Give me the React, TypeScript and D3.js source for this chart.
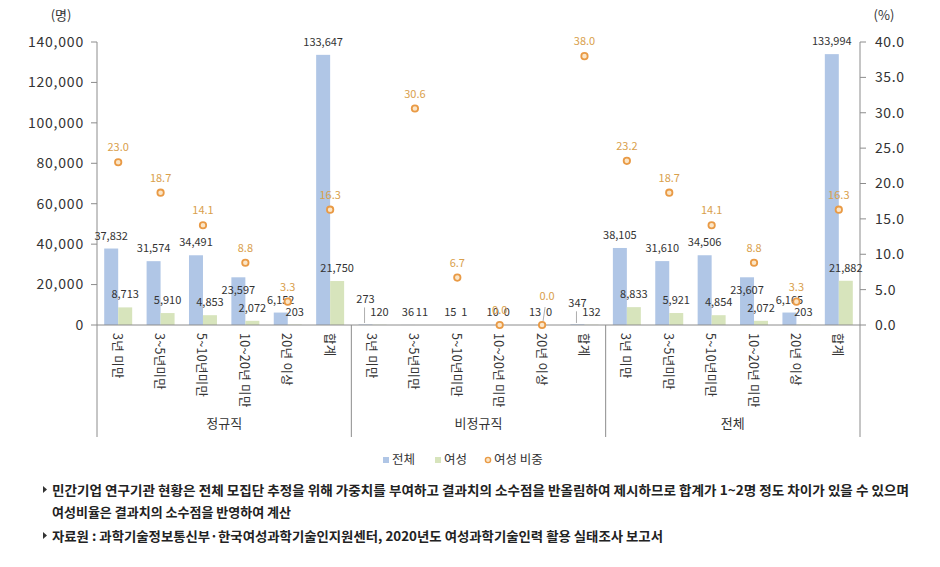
import React from "react";
import * as d3 from "d3";

const groups = ["정규직", "비정규직", "전체"];
const periods = ["3년 미만", "3~5년미만", "5~10년미만", "10~20년 미만", "20년 이상", "합계"];

const totalRegular = [37832, 31574, 34491, 23597, 6152, 133647];
const womenRegular = [8713, 5910, 4853, 2072, 203, 21750];
const ratioRegular = [23.0, 18.7, 14.1, 8.8, 3.3, 16.3];

const totalIrregular = [273, 36, 15, 10, 13, 347];
const womenIrregular = [120, 11, 1, 0, 0, 132];
const ratioIrregular = [44.0, 30.6, 6.7, 0.0, 0.0, 38.0];

const totalAll = [38105, 31610, 34506, 23607, 6165, 133994];
const womenAll = [8833, 5921, 4854, 2072, 203, 21882];
const ratioAll = [23.2, 18.7, 14.1, 8.8, 3.3, 16.3];

const leftTicks = [0, 20000, 40000, 60000, 80000, 100000, 120000, 140000];
const rightTicks = [0, 5, 10, 15, 20, 25, 30, 35, 40];

const legendLabels = ["전체", "여성", "여성 비중"];
const notes = [
  "민간기업 연구기관 현황은 전체 모집단 추정을 위해 가중치를 부여하고 결과치의 소수점을 반올림하여 제시하므로 합계가 1~2명 정도 차이가 있을 수 있으며",
  "여성비율은 결과치의 소수점을 반영하여 계산",
  "자료원 : 과학기술정보통신부·한국여성과학기술인지원센터, 2020년도 여성과학기술인력 활용 실태조사 보고서",
];

const totals = [...totalRegular, ...totalIrregular, ...totalAll];
const women = [...womenRegular, ...womenIrregular, ...womenAll];
const ratios = [...ratioRegular, ...ratioIrregular, ...ratioAll];
const cats = groups.flatMap((g) => periods.map((p) => ({ g, p })));

const FONT = "'Noto Sans CJK KR', 'Noto Sans', sans-serif";
const BLUE = "#B0C6E6";
const GREEN = "#D7E4BC";
const ORANGE = "#E99A45";
const ORANGE_TXT = "#D9A04C";
const AXIS = "#8C8C8C";

// manual label nudges (like hand-moved Excel labels)
const totalLabelNudge: Record<number, number> = { 3: 26, 6: -12, 11: -8, 15: 26 };
const ratioLabelNudge: Record<number, [number, number]> = { 10: [5, -14] };

export default function App() {
  const x0 = 97, x1 = 860, yTop = 42, yBase = 325, sepBottom = 437;
  const x = d3.scaleBand<number>().domain(d3.range(cats.length)).range([x0, x1]).padding(0);
  const bw = x.bandwidth();
  const barW = bw * 0.33;
  const yL = d3.scaleLinear().domain([0, 140000]).range([yBase, yTop]);
  const yR = d3.scaleLinear().domain([0, 40]).range([yBase, yTop]);
  const fmt = d3.format(",");
  const fmt1 = d3.format(".1f");
  const cx = (i: number) => (x(i) as number) + bw / 2;
  const groupEdges = d3.range(groups.length + 1).map((k) => x0 + k * periods.length * bw);

  return (
    <svg width={940} height={567} style={{ display: "block", position: "absolute", left: 0, top: 0, background: "#fff" }} fontFamily={FONT}>
      {/* unit labels */}
      <text x={61} y={20} fontSize={13} fill="#333" textAnchor="middle">(명)</text>
      <text x={884} y={20} fontSize={13} fill="#333" textAnchor="middle">(%)</text>

      {/* left axis */}
      <line x1={x0} x2={x0} y1={yTop} y2={sepBottom} stroke={AXIS} />
      {leftTicks.map((t) => (
        <g key={"l" + t}>
          <line x1={x0 - 6} x2={x0} y1={yL(t)} y2={yL(t)} stroke={AXIS} />
          <text x={84} y={yL(t)} dy="0.35em" textAnchor="end" fontSize={14} letterSpacing={0.8} fill="#333">{fmt(t)}</text>
        </g>
      ))}
      {/* right axis */}
      <line x1={x1} x2={x1} y1={yTop} y2={sepBottom} stroke={AXIS} />
      {rightTicks.map((t) => (
        <g key={"r" + t}>
          <line x1={x1} x2={x1 + 6} y1={yR(t)} y2={yR(t)} stroke={AXIS} />
          <text x={875} y={yR(t)} dy="0.35em" textAnchor="start" fontSize={14} letterSpacing={0.6} fill="#333">{fmt1(t)}</text>
        </g>
      ))}

      {/* bars */}
      {totals.map((v, i) => (
        <rect key={"b" + i} x={cx(i) - barW} y={yL(v)} width={barW} height={yBase - yL(v)} fill={BLUE} />
      ))}
      {women.map((v, i) => (
        <rect key={"g" + i} x={cx(i)} y={yL(v)} width={barW} height={yBase - yL(v)} fill={GREEN} />
      ))}

      {/* x axis */}
      <line x1={x0} x2={x1} y1={yBase} y2={yBase} stroke={AXIS} />
      {groupEdges.slice(1, -1).map((ex, k) => (
        <line key={"s" + k} x1={ex} x2={ex} y1={yBase} y2={sepBottom} stroke={AXIS} />
      ))}

      {/* value labels */}
      {totals.map((v, i) => {
        const nudge = totalLabelNudge[i] || 0;
        const ly = yL(v) - 9 + nudge;
        return (
          <g key={"tl" + i}>
            {nudge < 0 && (
              <line x1={cx(i) - barW / 2 - 1} x2={cx(i) - barW / 2 - 1} y1={ly + 4} y2={yBase - 2} stroke="#999" strokeWidth={0.8} />
            )}
            <text x={cx(i) - barW / 2} y={ly} textAnchor="middle" fontSize={11} fill="#333">{fmt(v)}</text>
          </g>
        );
      })}
      {women.map((v, i) => (
        <text key={"wl" + i} x={cx(i) + barW / 2} y={yL(v) - 9} textAnchor="middle" fontSize={11} fill="#333">{fmt(v)}</text>
      ))}

      {/* ratio markers */}
      {ratios.map((v, i) => {
        if (v > 40) return null;
        const [ndx, ndy] = ratioLabelNudge[i] || [0, 0];
        return (
          <g key={"m" + i}>
            {ndy !== 0 && (
              <line x1={cx(i) + 1} x2={cx(i) + 3} y1={yR(v) - 4} y2={yR(v) - 18} stroke="#999" strokeWidth={0.8} />
            )}
            <circle cx={cx(i)} cy={yR(v)} r={3.2} fill="#FBE6C8" stroke={ORANGE} strokeWidth={1.8} />
            <text x={cx(i) + ndx} y={yR(v) - 11 + ndy} textAnchor="middle" fontSize={11} fill={ORANGE_TXT}>{fmt1(v)}</text>
          </g>
        );
      })}

      {/* category labels (rotated) */}
      {cats.map((c, i) => (
        <text key={"c" + i} transform={`translate(${cx(i)},${333}) rotate(90)`} dominantBaseline="central" fontSize={12.5} letterSpacing={0.3} fill="#333">{c.p}</text>
      ))}
      {groups.map((g, k) => (
        <text key={"grp" + k} x={(groupEdges[k] + groupEdges[k + 1]) / 2} y={428} textAnchor="middle" fontSize={13} fill="#333">{g}</text>
      ))}

      {/* legend */}
      <g fontSize={12.5} fill="#333">
        <rect x={383} y={457} width={6} height={6} fill={BLUE} />
        <text x={392} y={460} dy="0.35em">{legendLabels[0]}</text>
        <rect x={435} y={457} width={6} height={6} fill={GREEN} />
        <text x={444} y={460} dy="0.35em">{legendLabels[1]}</text>
        <circle cx={488} cy={460} r={2.6} fill="#FBE6C8" stroke={ORANGE} strokeWidth={1.4} />
        <text x={494} y={460} dy="0.35em">{legendLabels[2]}</text>
      </g>

      {/* notes */}
      <g fontSize={13} fill="#222" fontWeight="bold">
        <path d="M43,486 L47,489.5 L43,493 Z" fill="#333" />
        <text x={52} y={490} dy="0.35em" textLength={857} lengthAdjust="spacingAndGlyphs">{notes[0]}</text>
        <text x={52} y={512} dy="0.35em">{notes[1]}</text>
        <path d="M43,532 L47,535.5 L43,539 Z" fill="#333" />
        <text x={52} y={536} dy="0.35em" textLength={611} lengthAdjust="spacingAndGlyphs">{notes[2]}</text>
      </g>
    </svg>
  );
}
